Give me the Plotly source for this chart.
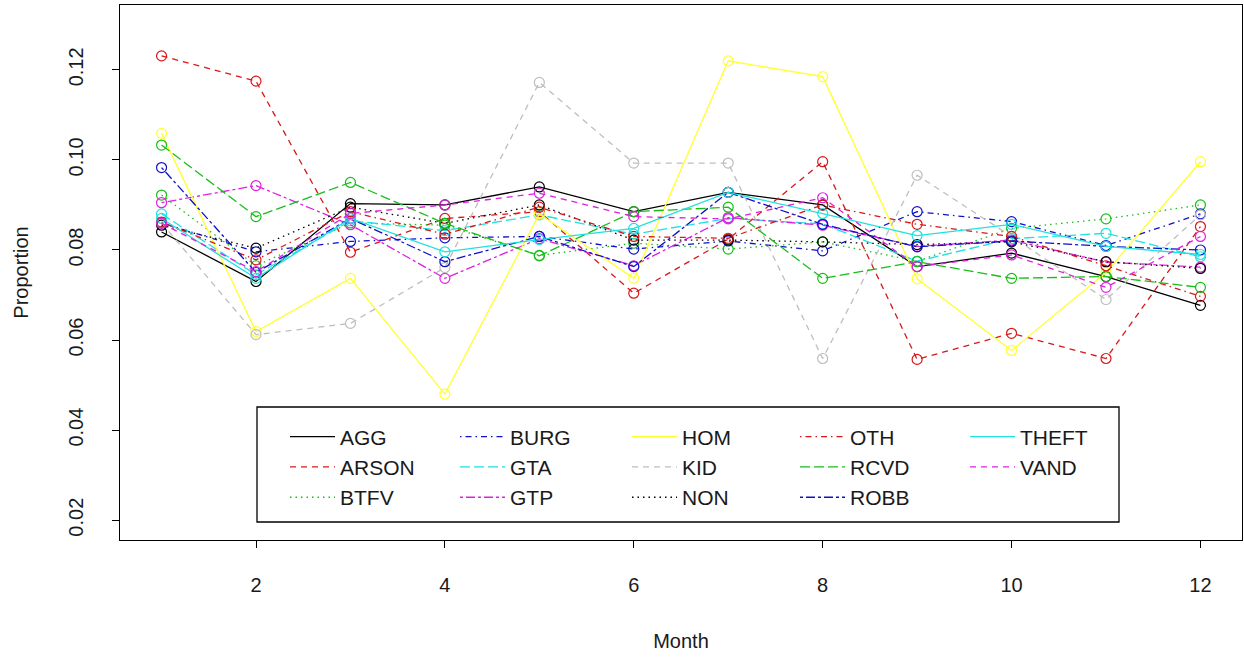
import plotly.graph_objects as go

months = list(range(1, 13))

AGG = [0.0840, 0.0730, 0.0903, 0.0900, 0.0940, 0.0885, 0.0928, 0.0900, 0.0763, 0.0793, 0.0741, 0.0677]
ARSON = [0.1231, 0.1175, 0.0795, 0.0870, 0.0885, 0.0704, 0.0824, 0.0996, 0.0557, 0.0615, 0.0559, 0.0852]
BTFV = [0.0922, 0.0765, 0.0860, 0.0855, 0.0788, 0.0815, 0.0802, 0.0818, 0.0775, 0.0848, 0.0869, 0.0900]
BURG = [0.0860, 0.0796, 0.0819, 0.0827, 0.0830, 0.0802, 0.0820, 0.0798, 0.0885, 0.0863, 0.0810, 0.0880]
GTA = [0.0880, 0.0745, 0.0865, 0.0843, 0.0878, 0.0835, 0.0870, 0.0858, 0.0775, 0.0825, 0.0837, 0.0785]
GTP = [0.0905, 0.0943, 0.0856, 0.0737, 0.0825, 0.0765, 0.0872, 0.0855, 0.0808, 0.0822, 0.0773, 0.0762]
HOM = [0.1059, 0.0619, 0.0737, 0.0480, 0.0880, 0.0737, 0.1220, 0.1185, 0.0736, 0.0577, 0.0750, 0.0996]
KID = [0.0860, 0.0612, 0.0637, 0.0761, 0.1172, 0.0993, 0.0993, 0.0559, 0.0966, 0.0830, 0.0690, 0.0878]
NON = [0.0855, 0.0804, 0.0895, 0.0859, 0.0900, 0.0822, 0.0822, 0.0818, 0.0812, 0.0818, 0.0774, 0.0759]
OTH = [0.0862, 0.0778, 0.0885, 0.0835, 0.0895, 0.0830, 0.0826, 0.0900, 0.0857, 0.0830, 0.0765, 0.0697]
RCVD = [0.1033, 0.0874, 0.0950, 0.0859, 0.0787, 0.0885, 0.0895, 0.0737, 0.0774, 0.0737, 0.0741, 0.0717]
ROBB = [0.0983, 0.0750, 0.0870, 0.0774, 0.0830, 0.0763, 0.0928, 0.0857, 0.0807, 0.0820, 0.0808, 0.0800]
THEFT = [0.0870, 0.0737, 0.0870, 0.0796, 0.0823, 0.0848, 0.0928, 0.0881, 0.0832, 0.0857, 0.0808, 0.0790]
VAND = [0.0859, 0.0752, 0.0881, 0.0900, 0.0926, 0.0874, 0.0869, 0.0916, 0.0763, 0.0789, 0.0717, 0.0830]

series_names = ["AGG", "ARSON", "BTFV", "BURG", "GTA", "GTP", "HOM",
                "KID", "NON", "OTH", "RCVD", "ROBB", "THEFT", "VAND"]
series_values = [AGG, ARSON, BTFV, BURG, GTA, GTP, HOM,
                 KID, NON, OTH, RCVD, ROBB, THEFT, VAND]

y_ticks = [0.02, 0.04, 0.06, 0.08, 0.10, 0.12]
x_ticks = [2, 4, 6, 8, 10, 12]

# base palette and line types, cycled like R's col=1:8, lty=1:6
palette = ["#000000", "#D81818", "#18BE18", "#1010C8",
           "#20E0E0", "#E020E0", "#FFFF30", "#BEBEBE"]
dashes = ["solid", "6px,5px", "1.5px,4px", "1.5px,4px,6px,4px",
          "10px,4px", "3px,3px,9px,3px"]

FONT = "Liberation Sans, Arial, sans-serif"
TXT = "#1a1a1a"

fig = go.Figure()

for i, (name, vals) in enumerate(zip(series_names, series_values)):
    col = palette[i % 8]
    dash = dashes[i % 6]
    fig.add_trace(go.Scatter(
        x=months, y=vals, mode="lines+markers", name=name,
        legendgroup=name, showlegend=False,
        line=dict(color=col, width=1.3, dash=dash),
        marker=dict(symbol="circle-open", size=10, color=col,
                    line=dict(width=1.2, color=col)),
    ))

# legend entries: lines only, filled column by column (3 per column)
legend_ids = ["legend", "legend2", "legend3", "legend4", "legend5"]
for i, name in enumerate(series_names):
    col = palette[i % 8]
    dash = dashes[i % 6]
    fig.add_trace(go.Scatter(
        x=[None], y=[None], mode="lines", name=name,
        legendgroup=name, showlegend=True,
        legend=legend_ids[i // 3],
        line=dict(color=col, width=1.3, dash=dash),
    ))

PLOT_L, PLOT_R, PLOT_T, PLOT_B = 120, 1242, 5, 540
W, H = 1244, 657
plot_w = PLOT_R - PLOT_L
plot_h = PLOT_B - PLOT_T


def px_x(px):
    return (px - PLOT_L) / plot_w


def px_y(py):
    return (PLOT_B - py) / plot_h


col_text_x = [342, 512, 684, 852, 1022]
legend_layout = {}
for k, lid in enumerate(legend_ids):
    legend_layout[lid] = dict(
        x=px_x(col_text_x[k] - 57), y=px_y(416.5), xanchor="left", yanchor="top",
        orientation="v", bgcolor="rgba(0,0,0,0)", borderwidth=0,
        font=dict(family=FONT, size=21, color=TXT),
        itemwidth=45, tracegroupgap=0, traceorder="grouped",
        itemclick=False, itemdoubleclick=False,
    )

fig.update_layout(
    width=W, height=H,
    margin=dict(l=PLOT_L, r=W - PLOT_R, t=PLOT_T, b=H - PLOT_B),
    paper_bgcolor="white", plot_bgcolor="white",
    font=dict(family=FONT, size=20, color=TXT),
    showlegend=True,
    **legend_layout,
    shapes=[dict(type="rect", xref="paper", yref="paper",
                 x0=px_x(257), x1=px_x(1119), y0=px_y(522), y1=px_y(407),
                 line=dict(color="black", width=1.3), fillcolor="rgba(0,0,0,0)",
                 layer="above")],
)

fig.update_xaxes(
    range=[0.56, 12.44], tickvals=x_ticks, ticks="outside", ticklen=7,
    tickcolor="black", showline=True, linecolor="black", linewidth=1.3,
    mirror=True, showgrid=False, zeroline=False,
    tickfont=dict(family=FONT, size=20, color=TXT),
    ticklabelstandoff=20,
    title=dict(text="Month", font=dict(family=FONT, size=20, color=TXT), standoff=38),
)
fig.update_yaxes(
    range=[0.0156, 0.1344], tickvals=y_ticks, tickformat=".2f",
    ticks="outside", ticklen=7, tickcolor="black", tickangle=-90,
    showline=True, linecolor="black", linewidth=1.3, mirror=True,
    showgrid=False, zeroline=False,
    tickfont=dict(family=FONT, size=20, color=TXT),
    ticklabelstandoff=21,
    title=dict(text="Proportion", font=dict(family=FONT, size=20, color=TXT), standoff=30),
)

fig.write_html("out.html")
